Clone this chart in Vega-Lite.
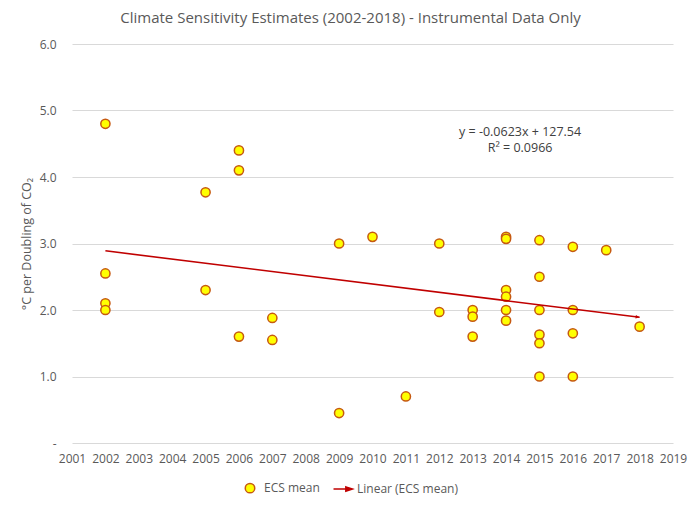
{
  "$schema": "https://vega.github.io/schema/vega-lite/v6.json",
  "width": 601,
  "height": 399,
  "autosize": {"type": "none"},
  "padding": {"left": 72, "top": 44, "right": 27, "bottom": 64},
  "background": "white",
  "config": {
    "font": "Open Sans",
    "view": {"stroke": null},
    "axis": {"labelColor": "#595959", "titleColor": "#595959", "labelFont": "Open Sans", "titleFont": "Open Sans", "labelFontSize": 12, "titleFontSize": 12.5, "titleFontWeight": "normal", "domain": false, "ticks": false},
    "axisX": {"labelOverlap": false, "labelBound": false, "labelFlush": false}
  },
  "title": {
    "text": "Climate Sensitivity Estimates (2002-2018) - Instrumental Data Only",
    "font": "Open Sans",
    "fontSize": 15,
    "fontWeight": "normal",
    "color": "#595959",
    "anchor": "middle",
    "dx": -22,
    "offset": 12
  },
  "datasets": {
    "ecs": [
      {"year": 2002, "ecs": 4.8, "series": "ECS mean"},
      {"year": 2002, "ecs": 2.55, "series": "ECS mean"},
      {"year": 2002, "ecs": 2.1, "series": "ECS mean"},
      {"year": 2002, "ecs": 2.0, "series": "ECS mean"},
      {"year": 2005, "ecs": 3.77, "series": "ECS mean"},
      {"year": 2005, "ecs": 2.3, "series": "ECS mean"},
      {"year": 2006, "ecs": 4.4, "series": "ECS mean"},
      {"year": 2006, "ecs": 4.1, "series": "ECS mean"},
      {"year": 2006, "ecs": 1.6, "series": "ECS mean"},
      {"year": 2007, "ecs": 1.88, "series": "ECS mean"},
      {"year": 2007, "ecs": 1.55, "series": "ECS mean"},
      {"year": 2009, "ecs": 3.0, "series": "ECS mean"},
      {"year": 2009, "ecs": 0.45, "series": "ECS mean"},
      {"year": 2010, "ecs": 3.1, "series": "ECS mean"},
      {"year": 2011, "ecs": 0.7, "series": "ECS mean"},
      {"year": 2012, "ecs": 3.0, "series": "ECS mean"},
      {"year": 2012, "ecs": 1.97, "series": "ECS mean"},
      {"year": 2013, "ecs": 2.0, "series": "ECS mean"},
      {"year": 2013, "ecs": 1.9, "series": "ECS mean"},
      {"year": 2013, "ecs": 1.6, "series": "ECS mean"},
      {"year": 2014, "ecs": 3.1, "series": "ECS mean"},
      {"year": 2014, "ecs": 3.07, "series": "ECS mean"},
      {"year": 2014, "ecs": 2.3, "series": "ECS mean"},
      {"year": 2014, "ecs": 2.2, "series": "ECS mean"},
      {"year": 2014, "ecs": 2.0, "series": "ECS mean"},
      {"year": 2014, "ecs": 1.84, "series": "ECS mean"},
      {"year": 2015, "ecs": 3.05, "series": "ECS mean"},
      {"year": 2015, "ecs": 2.5, "series": "ECS mean"},
      {"year": 2015, "ecs": 2.0, "series": "ECS mean"},
      {"year": 2015, "ecs": 1.63, "series": "ECS mean"},
      {"year": 2015, "ecs": 1.5, "series": "ECS mean"},
      {"year": 2015, "ecs": 1.0, "series": "ECS mean"},
      {"year": 2016, "ecs": 2.95, "series": "ECS mean"},
      {"year": 2016, "ecs": 2.0, "series": "ECS mean"},
      {"year": 2016, "ecs": 1.65, "series": "ECS mean"},
      {"year": 2016, "ecs": 1.0, "series": "ECS mean"},
      {"year": 2017, "ecs": 2.9, "series": "ECS mean"},
      {"year": 2018, "ecs": 1.75, "series": "ECS mean"}
    ],
    "trend": [
      {"year": 2002, "ecs": 2.89},
      {"year": 2018, "ecs": 1.89}
    ],
    "arrow": [
      {"year": 2018, "ecs": 1.89}
    ],
    "equation": [
      {"year": 2014.42, "ecs": 4.675, "label": "y = -0.0623x + 127.54"},
      {"year": 2014.42, "ecs": 4.43, "label": "R² = 0.0966"}
    ]
  },
  "encoding": {
    "x": {
      "field": "year", "type": "quantitative",
      "scale": {"domain": [2001, 2019], "nice": false, "zero": false},
      "axis": {"title": null, "values": [2001,2002,2003,2004,2005,2006,2007,2008,2009,2010,2011,2012,2013,2014,2015,2016,2017,2018,2019], "labelExpr": "'' + datum.value", "grid": false, "labelPadding": 10, "labelFlush": false, "labelOverlap": false, "labelBound": false, "labelSeparation": 0}
    },
    "y": {
      "field": "ecs", "type": "quantitative",
      "scale": {"domain": [0, 6], "nice": false},
      "axis": {"title": "°C per Doubling of CO₂", "values": [0,1,2,3,4,5,6], "labelExpr": "datum.value == 0 ? '-' : format(datum.value, '.1f')", "grid": true, "gridColor": "#D9D9D9", "gridWidth": 1, "labelPadding": 16, "titlePadding": 6}
    }
  },
  "layer": [
    {
      "data": {"name": "ecs"},
      "mark": {"type": "point", "filled": true, "size": 85, "strokeWidth": 1.5, "opacity": 1},
      "encoding": {
        "shape": {"field": "series", "type": "nominal", "scale": {"domain": ["ECS mean", "Linear (ECS mean)"], "range": ["circle", "M-2,0L1,0M0.6,-0.45L2,0L0.6,0.45Z"]}, "legend": {"title": null, "orient": "none", "direction": "horizontal", "legendX": 172, "legendY": 438, "padding": 0, "labelFont": "Open Sans", "labelFontSize": 12, "labelColor": "#595959", "labelOffset": 8, "columnPadding": 10, "symbolSize": 90, "symbolStrokeWidth": 1.5}},
        "fill": {"field": "series", "type": "nominal", "scale": {"domain": ["ECS mean", "Linear (ECS mean)"], "range": ["#FFFF00", "#C00000"]}, "legend": {"title": null, "orient": "none", "direction": "horizontal", "legendX": 172, "legendY": 438, "padding": 0, "labelFont": "Open Sans", "labelFontSize": 12, "labelColor": "#595959", "labelOffset": 8, "columnPadding": 10, "symbolSize": 90, "symbolStrokeWidth": 1.5}},
        "stroke": {"field": "series", "type": "nominal", "scale": {"domain": ["ECS mean", "Linear (ECS mean)"], "range": ["#C65911", "#C00000"]}, "legend": {"title": null, "orient": "none", "direction": "horizontal", "legendX": 172, "legendY": 438, "padding": 0, "labelFont": "Open Sans", "labelFontSize": 12, "labelColor": "#595959", "labelOffset": 8, "columnPadding": 10, "symbolSize": 90, "symbolStrokeWidth": 1.5}}
      }
    },
    {
      "data": {"name": "trend"},
      "mark": {"type": "line", "color": "#C00000", "strokeWidth": 1.6}
    },
    {
      "data": {"name": "arrow"},
      "mark": {"type": "point", "shape": "M0,0L-1,-0.45L-1,0.45Z", "filled": true, "color": "#C00000", "size": 64, "angle": 7, "opacity": 1}
    },
    {
      "data": {"name": "equation"},
      "mark": {"type": "text", "font": "Open Sans", "fontSize": 12.5, "color": "#404040", "align": "center", "baseline": "middle"},
      "encoding": {
        "text": {"field": "label", "type": "nominal"}
      }
    }
  ]
}
